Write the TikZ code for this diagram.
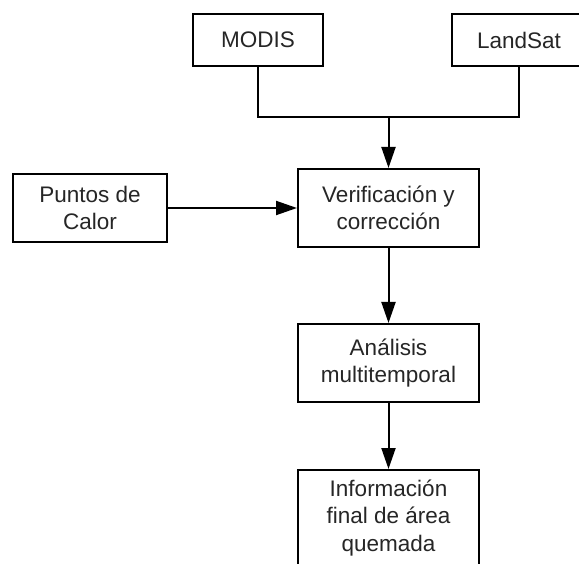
\documentclass[tikz,border=0pt]{standalone}
\usepackage{fontspec}
\setmainfont{Liberation Sans}
\usetikzlibrary{arrows.meta}
\tikzset{
  box/.style={draw=black, line width=2pt, fill=white, inner sep=0pt, align=center,
    font=\fontsize{22.5}{27.6}\selectfont, text=black!85},
  conn/.style={line width=2pt, draw=black},
  arr/.style={conn, -{Triangle[length=21pt,width=14pt]}}
}
\begin{document}
\begin{tikzpicture}[x=1pt,y=1pt]
\useasboundingbox (0,0) rectangle (579,-564);
\clip (0,0) rectangle (579,-564);
\node[box, minimum width=130pt, minimum height=52pt] (modis) at (258,-40) {MODIS};
\node[box, minimum width=134pt, minimum height=52pt] (landsat) at (519,-40) {LandSat};
\node[box, minimum width=154pt, minimum height=68pt] (puntos) at (90,-208) {Puntos de\\Calor};
\node[box, minimum width=181pt, minimum height=78pt] (verif) at (388.5,-208) {Verificación y\\corrección};
\node[box, minimum width=181pt, minimum height=78pt] (anal) at (388.5,-363) {Análisis\\multitemporal};
\node[box, minimum width=181pt, minimum height=96pt] (info) at (388.5,-518) {Información\\final de área\\quemada};
\coordinate (j) at (388.5,-117);
\draw[conn] (modis.south) |- (j) -| (landsat.south);
\draw[arr] (j) -- (verif.north);
\draw[arr] (puntos.east) -- (verif.west);
\draw[arr] (verif.south) -- (anal.north);
\draw[arr] (anal.south) -- (info.north);
\end{tikzpicture}
\end{document}
